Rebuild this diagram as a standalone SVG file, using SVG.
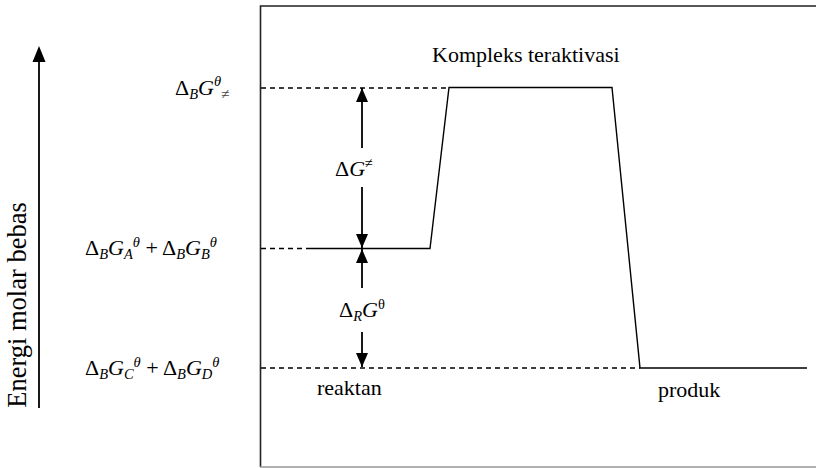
<svg xmlns="http://www.w3.org/2000/svg" width="816" height="468" viewBox="0 0 816 468">
<style>
text{font-family:"Liberation Serif","Times New Roman",serif;fill:#000}
.t{font-size:22px}
.m{font-size:22px}
.i{font-style:italic}
.s{font-size:14.5px}
.ln{stroke:#000;stroke-width:1.4;fill:none}
.ar{stroke:#000;stroke-width:1.8;fill:none}
.d{stroke:#000;stroke-width:1.3;fill:none;stroke-dasharray:5 4}
</style>
<defs>
<marker id="ah" viewBox="0 0 14 12" refX="14" refY="6" markerWidth="14" markerHeight="12" markerUnits="userSpaceOnUse" orient="auto">
<path d="M0,0 L14,6 L0,12 Z" fill="#000"/>
</marker>
</defs>
<g id="frame">
<path d="M260.5,467 V6 H816" fill="none" stroke="#222" stroke-width="1.6"/>
<line x1="260" y1="467" x2="816" y2="467" stroke="#999" stroke-width="1.5"/>
</g>
<g id="axis">
<line x1="39" y1="408" x2="39" y2="58" class="ar"/>
<path d="M32.5,62 L39,46 L45.5,62 Z" fill="#000"/>
<text transform="translate(26,305) rotate(-90)" text-anchor="middle" style="font-size:26.5px">Energi molar bebas</text>
</g>
<g id="connectors">
<line x1="261" y1="88" x2="448" y2="88" class="d"/>
<line x1="261" y1="248.5" x2="307" y2="248.5" class="d"/>
<line x1="261" y1="368" x2="640" y2="368" class="d"/>
<polyline class="ln" points="307,248.5 430,248.5 449,87.5 612,87.5 640,368 807,368"/>
<path d="M362,148 V88" class="ar" marker-end="url(#ah)"/>
<path d="M362,187 V248" class="ar" marker-end="url(#ah)"/>
<path d="M362,288 V249" class="ar" marker-end="url(#ah)"/>
<path d="M362,332 V367" class="ar" marker-end="url(#ah)"/>
</g>
<g id="label-top">
<text class="m" x="175" y="95">Δ<tspan class="s i" dy="4">B</tspan><tspan class="i" dy="-4">G</tspan><tspan class="s i" dy="-9">θ</tspan><tspan style="font-size:15px" fill="#444" dy="13">≠</tspan></text>
</g>
<g id="label-mid">
<text class="m" x="85" y="255">Δ<tspan class="s i" dy="4">B</tspan><tspan class="i" dy="-4">G</tspan><tspan class="s i" dy="4">A</tspan><tspan class="s i" dy="-12">θ</tspan><tspan dy="8"> + Δ</tspan><tspan class="s i" dy="4">B</tspan><tspan class="i" dy="-4">G</tspan><tspan class="s i" dy="4">B</tspan><tspan class="s i" dy="-12">θ</tspan></text>
</g>
<g id="label-bot">
<text class="m" x="85" y="375">Δ<tspan class="s i" dy="4">B</tspan><tspan class="i" dy="-4">G</tspan><tspan class="s i" dy="4">C</tspan><tspan class="s i" dy="-12">θ</tspan><tspan dy="8"> + Δ</tspan><tspan class="s i" dy="4">B</tspan><tspan class="i" dy="-4">G</tspan><tspan class="s i" dy="4">D</tspan><tspan class="s i" dy="-12">θ</tspan></text>
</g>
<g id="label-dG">
<text class="m" x="335" y="176">Δ<tspan class="i">G</tspan><tspan class="s" dy="-8">≠</tspan></text>
</g>
<g id="label-dRG">
<text class="m" x="339" y="317">Δ<tspan class="s i" dy="4">R</tspan><tspan class="i" dy="-4">G</tspan><tspan class="s" dy="-8">θ</tspan></text>
</g>
<g id="kompleks"><text class="t" x="432" y="62">Kompleks teraktivasi</text></g>
<g id="reaktan"><text class="t" x="317" y="395">reaktan</text></g>
<g id="produk"><text class="t" x="658" y="397">produk</text></g>
</svg>
